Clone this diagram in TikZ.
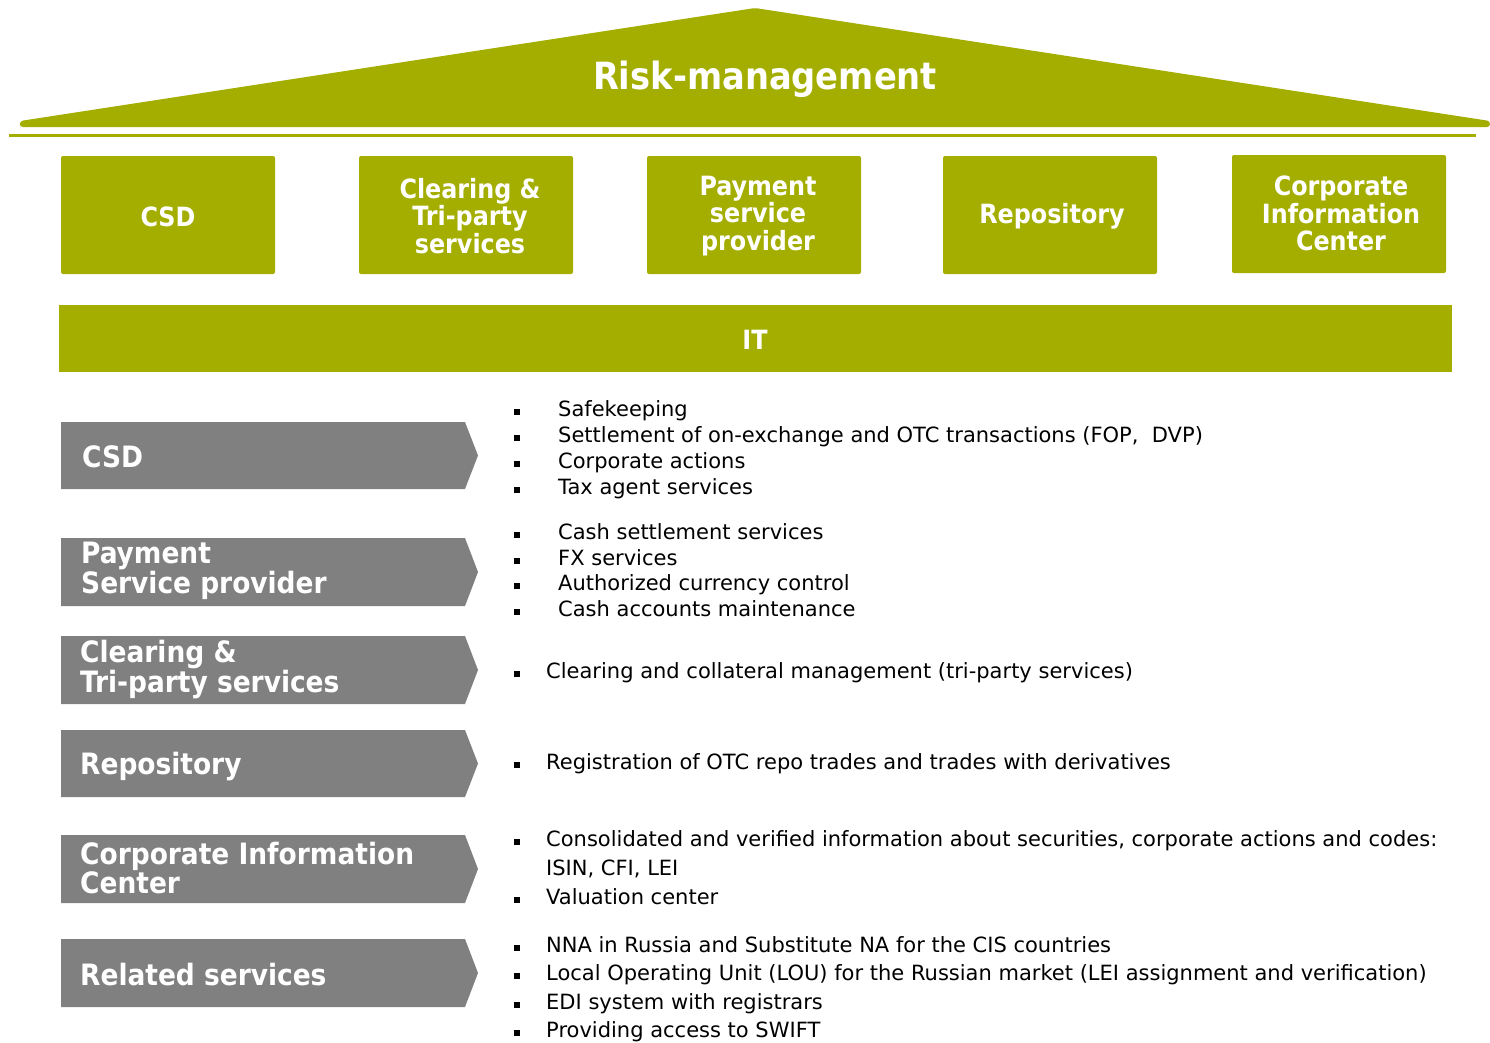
\documentclass[tikz,border=0pt]{standalone}
\usepackage{fontspec}
\setmainfont{DejaVu Sans Condensed}
\newfontfamily\bodyfont{DejaVu Sans}
\definecolor{myolive}{RGB}{164,174,0}
\definecolor{mygrey}{RGB}{128,128,128}
\tikzset{
  topbox/.style={fill=myolive, rounded corners=2, minimum width=214, minimum height=118, inner sep=0},
  toptext/.style={text=white, font=\fontsize{26.5}{27.5}\selectfont\bfseries, align=center, inner sep=0},
  chevlabel/.style={text=white, font=\fontsize{29.4}{29.5}\selectfont\bfseries, align=left, anchor=west, inner sep=0},
  btext/.style={font=\bodyfont\fontsize{21}{26}\selectfont, anchor=base west, inner sep=0},
  bsq/.style={fill=black, minimum size=6.5, inner sep=0},
}
\newcommand\chevron[2]{% top, bottom
  \fill[mygrey] (61,#1) -- (465,#1) -- (478,{(#1+#2)/2}) -- (465,#2) -- (61,#2) -- cycle;
}
\newcommand\bitem[4]{% name, text x, center y, text
  \node[bsq] (#1q) at (517,#3+3) {};
  \node[btext] (#1) at (#2,#3+7.5) {#4};
}
\begin{document}
\begin{tikzpicture}[x=1pt,y=-1pt]
\useasboundingbox (0,0) rectangle (1490,1042);
% roof
\fill[myolive, rounded corners=3] (20,126) -- (20,121) -- (755,8) -- (1490,121) -- (1490,127) -- (20,127) -- cycle;
\node[text=white, font=\fontsize{37.5}{40}\selectfont\bfseries, inner sep=0] (roof) at (765,79) {Risk-management};
\draw[myolive, line width=3] (9,135) -- (1476,135);
% top boxes
\node[topbox] (b1) at (168,215) {};
\node[topbox] (b2) at (466,215) {};
\node[topbox] (b3) at (754,215) {};
\node[topbox] (b4) at (1050,215) {};
\node[topbox] (b5) at (1339,214) {};
\node[toptext] (t1) at (168,217) {CSD};
\node[toptext] (t2) at (470,216) {Clearing \&\\Tri-party\\services};
\node[toptext] (t3) at (758,216) {Payment\\service\\provider};
\node[toptext] (t4) at (1052,216) {Repository};
\node[toptext] (t5) at (1341,213.5) {Corporate\\Information\\Center};
% IT bar
\fill[myolive] (59,305) rectangle (1452,372);
\node[toptext] (it) at (755,340) {IT};
% chevrons
\chevron{422}{489}
\chevron{538}{606}
\chevron{636}{704}
\chevron{730}{797}
\chevron{835}{903}
\chevron{939}{1007}
\node[chevlabel] (l1) at (82,457) {CSD};
\node[chevlabel] (l2) at (81,571) {Payment\\Service provider};
\node[chevlabel] (l3) at (80,669.5) {Clearing \&\\Tri-party services};
\node[chevlabel] (l4) at (80,766) {Repository};
\node[chevlabel] (l5) at (80,868) {Corporate Information\\Center};
\node[chevlabel] (l6) at (80,975) {Related services};
% bullets
\bitem{a1}{558}{409}{Safekeeping}
\bitem{a2}{558}{435}{Settlement of on-exchange and OTC transactions (FOP,\ \ DVP)}
\bitem{a3}{558}{461}{Corporate actions}
\bitem{a4}{558}{487}{Tax agent services}
\bitem{p1}{558}{532}{Cash settlement services}
\bitem{p2}{558}{558}{FX services}
\bitem{p3}{558}{583}{Authorized currency control}
\bitem{p4}{558}{609}{Cash accounts maintenance}
\bitem{c1}{546}{671}{Clearing and collateral management (tri-party services)}
\bitem{r1}{546}{762}{Registration of OTC repo trades and trades with derivatives}
\bitem{i1}{546}{839}{Consolidated and verified information about securities, corporate actions and codes:}
\node[btext] (i1b) at (546,868+7.5) {ISIN, CFI, LEI};
\bitem{i2}{546}{897}{Valuation center}
\bitem{s1}{546}{945}{NNA in Russia and Substitute NA for the CIS countries}
\bitem{s2}{546}{973}{Local Operating Unit (LOU) for the Russian market (LEI assignment and verification)}
\bitem{s3}{546}{1002}{EDI system with registrars}
\bitem{s4}{546}{1030}{Providing access to SWIFT}
\end{tikzpicture}
\end{document}
